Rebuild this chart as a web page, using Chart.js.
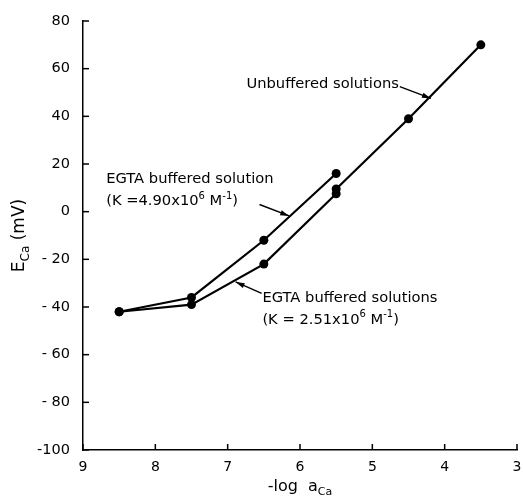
<!DOCTYPE html>
<html>
<head>
<meta charset="utf-8">
<script src="https://cdn.jsdelivr.net/npm/chart.js@4"></script>
<style>
  html, body { margin: 0; padding: 0; background: #fff; }
</style>
</head>
<body>
<canvas id="chart" width="523" height="500"></canvas>
<script>
// -log aCa values and measured ECa (mV) for each curve
const bufferedHighX = [8.5, 7.5, 6.5, 5.5];
const bufferedHighY = [-42, -36, -12, 16];
const bufferedLowX = [8.5, 7.5, 6.5, 5.5];
const bufferedLowY = [-42, -39, -22, 7.5];
const unbufferedX = [5.5, 4.5, 3.5];
const unbufferedY = [9.5, 39, 70];

const xTicks = [9, 8, 7, 6, 5, 4, 3];
const yTicks = [80, 60, 40, 20, 0, -20, -40, -60, -80, -100];

const FONT = '"DejaVu Sans", Verdana, sans-serif';
const INK = '#000';

function toPoints(xs, ys) {
  return xs.map((x, i) => ({ x, y: ys[i] }));
}

// Підписи з стрілками, позиції в координатах даних
const notes = [
  { x: 6.74, y: 53.4, lines: [[['Unbuffered solutions', 'n']]],
    arrow: { from: [4.62, 52.5], to: [4.19, 47.5] } },
  { x: 8.68, y: 13.5, lines: [
      [['EGTA buffered solution', 'n']],
      [['(K =4.90x10', 'n'], ['6', 'sup'], [' M', 'n'], ['-1', 'sup'], [')', 'n']]
    ],
    arrow: { from: [6.56, 3.0], to: [6.15, -1.8] } },
  { x: 6.52, y: -36.1, lines: [
      [['EGTA buffered solutions', 'n']],
      [['(K = 2.51x10', 'n'], ['6', 'sup'], [' M', 'n'], ['-1', 'sup'], [')', 'n']]
    ],
    arrow: { from: [6.53, -34.3], to: [6.89, -29.5] } }
];

function partSize(kind, size) {
  return kind === 'n' ? size : Math.round(size * 0.7);
}

function richWidth(ctx, parts, size) {
  let w = 0;
  parts.forEach(([t, kind]) => {
    ctx.font = partSize(kind, size) + 'px ' + FONT;
    w += ctx.measureText(t).width;
  });
  return w;
}

function drawRich(ctx, x, y, parts, size) {
  let cx = x;
  parts.forEach(([t, kind]) => {
    const dy = kind === 'sup' ? -size * 0.35 : kind === 'sub' ? size * 0.35 : 0;
    ctx.font = partSize(kind, size) + 'px ' + FONT;
    ctx.fillText(t, cx, y + dy);
    cx += ctx.measureText(t).width;
  });
}

function drawArrow(ctx, x1, y1, x2, y2) {
  ctx.beginPath();
  ctx.moveTo(x1, y1);
  ctx.lineTo(x2, y2);
  ctx.lineWidth = 1.4;
  ctx.stroke();
  const a = Math.atan2(y2 - y1, x2 - x1);
  const len = 9, w = 2.6;
  ctx.beginPath();
  ctx.moveTo(x2, y2);
  ctx.lineTo(x2 - len * Math.cos(a) + w * Math.sin(a), y2 - len * Math.sin(a) - w * Math.cos(a));
  ctx.lineTo(x2 - len * Math.cos(a) - w * Math.sin(a), y2 - len * Math.sin(a) + w * Math.cos(a));
  ctx.closePath();
  ctx.fill();
}

const figurePlugin = {
  id: 'figure',
  afterDraw(chart) {
    const { ctx, chartArea, scales } = chart;
    const xs = scales.x, ys = scales.y;
    ctx.save();
    ctx.strokeStyle = INK;
    ctx.fillStyle = INK;

    // внутрішні засічки на осях
    ctx.lineWidth = 1.5;
    xTicks.forEach(v => {
      const px = xs.getPixelForValue(v);
      ctx.beginPath();
      ctx.moveTo(px, chartArea.bottom);
      ctx.lineTo(px, chartArea.bottom - 6);
      ctx.stroke();
    });
    yTicks.forEach(v => {
      const py = ys.getPixelForValue(v);
      ctx.beginPath();
      ctx.moveTo(chartArea.left, py);
      ctx.lineTo(chartArea.left + 6, py);
      ctx.stroke();
    });

    // підписи кривих
    ctx.textAlign = 'left';
    ctx.textBaseline = 'middle';
    notes.forEach(n => {
      const px = xs.getPixelForValue(n.x);
      const py = ys.getPixelForValue(n.y);
      n.lines.forEach((line, i) => drawRich(ctx, px, py + i * 22, line, 14.7));
      drawArrow(ctx,
        xs.getPixelForValue(n.arrow.from[0]), ys.getPixelForValue(n.arrow.from[1]),
        xs.getPixelForValue(n.arrow.to[0]), ys.getPixelForValue(n.arrow.to[1]));
    });

    // назви осей
    const midX = (chartArea.left + chartArea.right) / 2;
    const xParts = [['-log  a', 'n'], ['Ca', 'sub']];
    drawRich(ctx, midX - richWidth(ctx, xParts, 16) / 2, 487, xParts, 16);

    const midY = (chartArea.top + chartArea.bottom) / 2;
    const yParts = [['E', 'n'], ['Ca', 'sub'], [' (mV)', 'n']];
    ctx.translate(20, midY);
    ctx.rotate(-Math.PI / 2);
    drawRich(ctx, -richWidth(ctx, yParts, 17) / 2, 0, yParts, 17);
    ctx.restore();
  }
};

const lineStyle = {
  showLine: true,
  borderColor: INK,
  borderWidth: 2.2,
  backgroundColor: INK,
  pointRadius: 4.5,
  pointBorderWidth: 0,
  tension: 0
};

new Chart(document.getElementById('chart'), {
  type: 'scatter',
  data: {
    datasets: [
      { label: 'EGTA buffered solution (K = 4.90x10^6 M^-1)', data: toPoints(bufferedHighX, bufferedHighY), ...lineStyle },
      { label: 'EGTA buffered solutions (K = 2.51x10^6 M^-1)', data: toPoints(bufferedLowX, bufferedLowY), ...lineStyle },
      { label: 'Unbuffered solutions', data: toPoints(unbufferedX, unbufferedY), ...lineStyle }
    ]
  },
  options: {
    responsive: false,
    animation: false,
    layout: { padding: { top: 21, right: 6, left: 0, bottom: 0 } },
    plugins: { legend: { display: false }, tooltip: { enabled: false } },
    scales: {
      x: {
        type: 'linear',
        reverse: true,
        min: 3,
        max: 9,
        afterBuildTicks: s => { s.ticks = xTicks.map(v => ({ value: v })); },
        ticks: { color: INK, font: { family: FONT, size: 14 }, padding: 1, maxRotation: 0 },
        grid: { display: false },
        border: { color: INK, width: 1.5 },
        afterFit: s => { s.height = 50; }
      },
      y: {
        min: -100,
        max: 80,
        afterBuildTicks: s => { s.ticks = yTicks.map(v => ({ value: v })); },
        ticks: {
          color: INK,
          font: { family: FONT, size: 14.5 },
          padding: 5,
          callback: v => (v < 0 && v > -100 ? '- ' + (-v) : String(v))
        },
        grid: { display: false },
        border: { color: INK, width: 1.5 },
        afterFit: s => { s.width = 83; }
      }
    }
  },
  plugins: [figurePlugin]
});
</script>
</body>
</html>
